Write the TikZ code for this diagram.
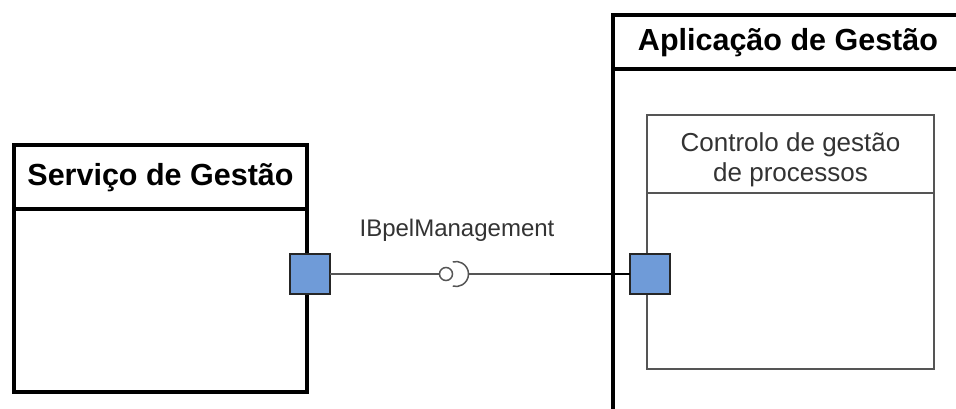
\documentclass[tikz,border=0pt]{standalone}
\usepackage{fontspec}
\setmainfont{Liberation Sans}
\definecolor{portblue}{HTML}{6F9BD8}
\definecolor{txtgray}{HTML}{333333}
\definecolor{linegray}{HTML}{555555}
\begin{document}
\begin{tikzpicture}[x=1pt,y=-1pt,
  bigbox/.style={draw=black, line width=4pt, fill=white, inner sep=0pt, outer sep=0pt, anchor=north west},
  bigline/.style={draw=black, line width=3.5pt},
  innerbox/.style={draw=linegray, line width=2pt, fill=white, inner sep=0pt, outer sep=0pt, anchor=north west},
  innerline/.style={draw=linegray, line width=1.6pt},
  hdr/.style={font=\fontsize{30.5}{34}\selectfont\bfseries, text=black, inner sep=0pt},
  subhdr/.style={font=\fontsize{26}{30}\selectfont, text=txtgray, align=center, inner sep=0pt},
  portbox/.style={draw=black!85, line width=1.5pt, fill=portblue, minimum size=40pt, inner sep=0pt, outer sep=0pt},
  conn/.style={draw=linegray, line width=1.5pt},
  lbl/.style={font=\fontsize{24}{28}\selectfont, text=txtgray, inner sep=0pt}
]
\useasboundingbox (0,0) rectangle (956,408);
\clip (0,0) rectangle (956,408);
\fill[white] (0,0) rectangle (956,408);

% Left component
\node[bigbox, minimum width=293pt, minimum height=247pt] (svc) at (14,145) {};
\draw[bigline] (14,209) -- (307,209);
\node[hdr] (svctitle) at (160.5,178) {Serviço de Gestão};

% Right component (extends beyond the picture)
\node[bigbox, minimum width=420pt, minimum height=460pt] (app) at (613,15) {};
\draw[bigline] (613,69) -- (1000,69);
\node[hdr] (apptitle) at (788,43) {Aplicação de Gestão};

% Inner component
\node[innerbox, minimum width=287pt, minimum height=254pt] (ctl) at (647,115) {};
\draw[innerline] (647,193) -- (934,193);
\node[subhdr] (ctltitle) at (790.5,160) {Controlo de gestão\\de processos};

% Connectors
\node[circle, draw=linegray, line width=1.5pt, minimum size=13pt, inner sep=0pt, fill=white] (lolli) at (446,274) {};
\coordinate (sock) at (468.5,274);
\coordinate (mid) at (550,274);
\draw[linegray, line width=1.5pt] (sock) arc[start angle=0, end angle=105, radius=12.5pt];
\draw[linegray, line width=1.5pt] (sock) arc[start angle=0, end angle=-105, radius=12.5pt];

% Ports
\node[portbox] (lport) at (310,274) {};
\node[portbox] (rport) at (650,274) {};

\draw[conn] (lport.east) -- (lolli.west);
\draw[conn] (sock) -- (mid);
\draw[black, line width=1.5pt] (mid) -- (rport.west);

\node[lbl] (ifc) at (457,230) {IBpelManagement};
\end{tikzpicture}
\end{document}
